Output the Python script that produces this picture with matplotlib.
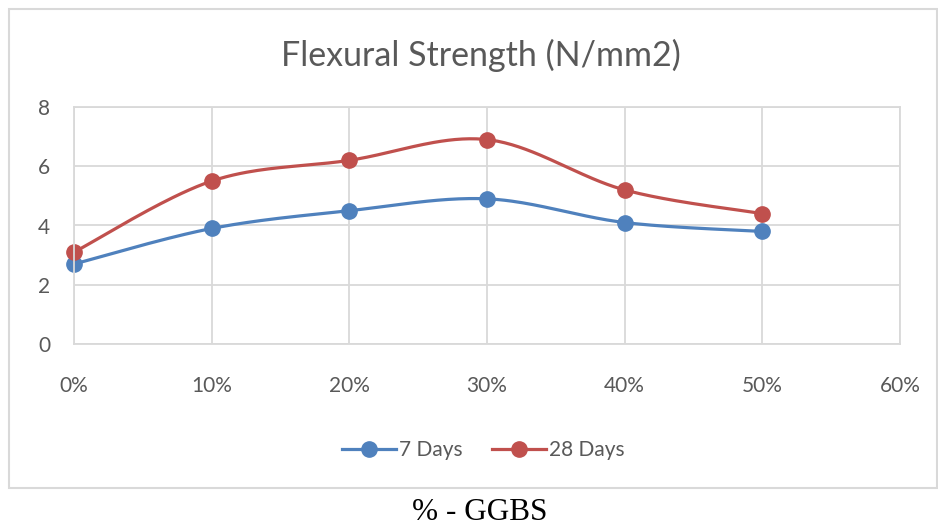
import numpy as np
import matplotlib.pyplot as plt
from matplotlib.lines import Line2D
from matplotlib.patches import Rectangle

# GGBS replacement levels (fraction) and flexural strength results
ggbs = [0.0, 0.1, 0.2, 0.3, 0.4, 0.5]
days_7 = [2.7, 3.9, 4.5, 4.9, 4.1, 3.8]
days_28 = [3.1, 5.5, 6.2, 6.9, 5.2, 4.4]
x_ticks = [0.0, 0.1, 0.2, 0.3, 0.4, 0.5, 0.6]
x_labels = ['0%', '10%', '20%', '30%', '40%', '50%', '60%']

BLUE = '#4F81BD'
RED = '#C0504D'
GRID = '#D9D9D9'
TXT = '#595959'
FONT = ['Lato', 'DejaVu Sans']


def smooth(xs, ys, n=40):
    # cardinal (catmull-rom) bezier segments through every point
    px = np.array([xs[0]] + list(xs) + [xs[-1]], dtype=float)
    py = np.array([ys[0]] + list(ys) + [ys[-1]], dtype=float)
    out_x, out_y = [], []
    t = np.linspace(0, 1, n)
    for i in range(1, len(px) - 2):
        p0 = np.array([px[i], py[i]])
        p3 = np.array([px[i + 1], py[i + 1]])
        c1 = p0 + (np.array([px[i + 1], py[i + 1]]) - np.array([px[i - 1], py[i - 1]])) / 6
        c2 = p3 - (np.array([px[i + 2], py[i + 2]]) - np.array([px[i], py[i]])) / 6
        b = ((1 - t) ** 3)[:, None] * p0 + (3 * (1 - t) ** 2 * t)[:, None] * c1 \
            + (3 * (1 - t) * t ** 2)[:, None] * c2 + (t ** 3)[:, None] * p3
        out_x.extend(b[:, 0])
        out_y.extend(b[:, 1])
    return out_x, out_y


W, H = 938, 529
fig = plt.figure(figsize=(W / 100, H / 100), dpi=100)

# chart frame
fig.patches.append(Rectangle((9 / W, 1 - 488 / H), 928 / W, 479 / H,
                             transform=fig.transFigure, fill=False,
                             edgecolor=GRID, linewidth=1.5))

ax = fig.add_axes([74 / W, 1 - 344 / H, 826 / W, 237 / H])
ax.set_xlim(0, 0.6)
ax.set_ylim(0, 8)
ax.set_xticks(x_ticks)
ax.set_xticklabels(x_labels)
ax.set_yticks([0, 2, 4, 6, 8])
ax.grid(True, color=GRID, linewidth=1.3)
ax.set_axisbelow(True)
for s in ax.spines.values():
    s.set_color(GRID)
    s.set_linewidth(1.3)
ax.tick_params(length=0, labelsize=15, colors=TXT)
ax.tick_params(axis='x', pad=23)
ax.tick_params(axis='y', pad=17)
for lab in ax.get_xticklabels() + ax.get_yticklabels():
    lab.set_family(FONT)

for ys, c in [(days_7, BLUE), (days_28, RED)]:
    sx, sy = smooth(ggbs, ys)
    ax.plot(sx, sy, color=c, linewidth=2.3, solid_capstyle='round', clip_on=False)
    ax.plot(ggbs, ys, 'o', color=c, markersize=11, clip_on=False)

fig.text(481 / W, 1 - 55 / H, 'Flexural Strength (N/mm2)', ha='center', va='center',
         fontsize=24.5, color=TXT, family=FONT)

handles = [Line2D([], [], color=BLUE, linewidth=2.3, marker='o', markersize=11),
           Line2D([], [], color=RED, linewidth=2.3, marker='o', markersize=11)]
fig.legend(handles, ['7 Days', '28 Days'], loc='center', bbox_to_anchor=(483 / W, 1 - 450 / H),
           ncol=2, frameon=False, prop={'family': FONT, 'size': 15}, labelcolor=TXT,
           handlelength=2.6, handletextpad=0.15, columnspacing=1.4)

fig.text(480 / W, 1 - 513 / H, '% - GGBS', ha='center', va='center',
         fontsize=22.5, color='black', family='Liberation Serif')

fig.savefig('out.png', dpi=100)
